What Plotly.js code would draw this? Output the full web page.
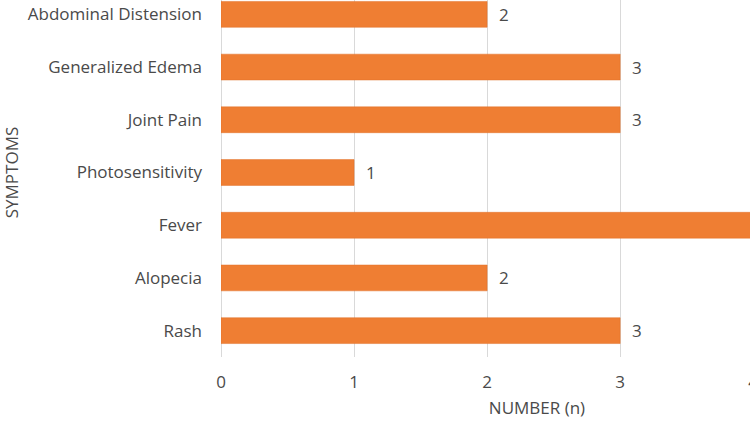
<!DOCTYPE html>
<html>
<head>
<meta charset="utf-8">
<script src="https://cdn.plot.ly/plotly-3.0.1.min.js"></script>
<style>
html,body{margin:0;padding:0;width:750px;height:422px;overflow:hidden;background:#fff;position:relative;}
#chart{position:absolute;left:0;top:-30px;width:870px;height:452px;}
</style>
</head>
<body>
<div id="chart"></div>
<script>
const symptoms = ["Rash", "Alopecia", "Fever", "Photosensitivity", "Joint Pain", "Generalized Edema", "Abdominal Distension"];
const counts = [3, 2, 4, 1, 3, 3, 2];
const xTitle = "NUMBER (n)";
const yTitle = "SYMPTOMS";

const FONT = "Open Sans, sans-serif";
const TXT = "#4a4a4a";

const trace = {
  type: "bar",
  orientation: "h",
  y: symptoms,
  x: counts,
  marker: {color: "#EF7E33", line: {color: "#E07028", width: 0.5}},
  text: counts.map(String),
  textposition: "outside",
  texttemplate: "  %{x}",
  textfont: {family: FONT, size: 17, color: TXT},
  cliponaxis: true,
  hoverinfo: "none"
};

const layout = {
  width: 870,
  height: 452,
  margin: {l: 221, r: 17, t: 17.5, b: 64.5},
  paper_bgcolor: "#fff",
  plot_bgcolor: "#fff",
  bargap: 0.51,
  showlegend: false,
  font: {family: FONT, color: TXT},
  xaxis: {
    range: [0, 4.75],
    dtick: 1,
    tick0: 0,
    showgrid: true,
    gridcolor: "#d9d9d9",
    gridwidth: 1,
    zeroline: true,
    zerolinecolor: "#d9d9d9",
    showline: false,
    ticks: "",
    ticklabelstandoff: 13,
    tickfont: {family: FONT, size: 17, color: TXT},
    title: {text: xTitle, font: {family: FONT, size: 17, color: TXT}, standoff: 10}
  },
  yaxis: {
    range: [-0.5, 6.5],
    showgrid: false,
    zeroline: false,
    showline: false,
    ticks: "",
    ticklabelstandoff: 18,
    tickfont: {family: FONT, size: 17, color: TXT},
    title: {text: yTitle, font: {family: FONT, size: 17, color: TXT}, standoff: 15}
  }
};

Plotly.newPlot("chart", [trace], layout, {displayModeBar: false, staticPlot: true});
</script>
</body>
</html>
